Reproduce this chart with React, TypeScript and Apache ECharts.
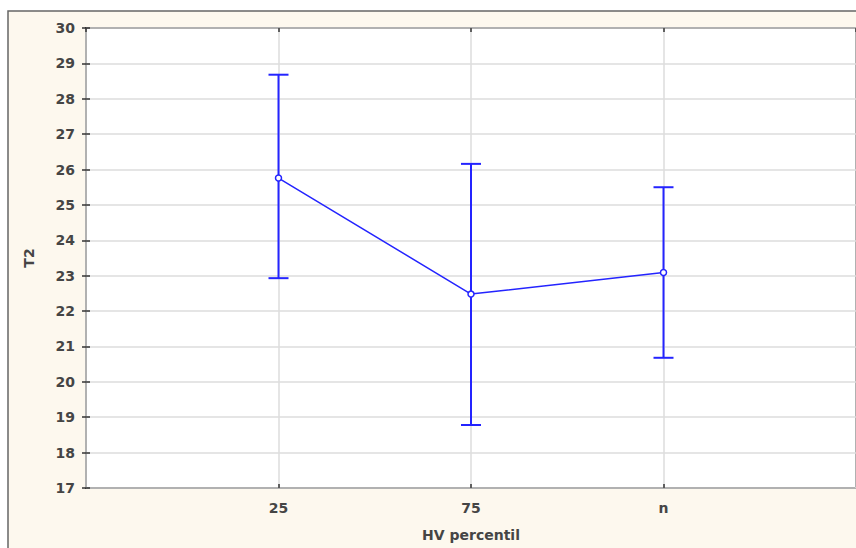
import React, { useEffect, useRef } from "react";
import * as echarts from "echarts";

const categories = ["25", "75", "n"];
const means = [25.76, 22.48, 23.09];
const upper = [28.68, 26.16, 25.5];
const lower = [22.93, 18.78, 20.68];
const yTicks = { min: 17, max: 30, interval: 1 };

const BLUE = "#2424ff";
const FONT = "DejaVu Sans, Verdana, sans-serif";
const TEXT = { fontFamily: FONT, fontSize: 14, fontWeight: "bold" as const, color: "#454545" };

export default function App() {
  const ref = useRef<HTMLDivElement>(null);
  useEffect(() => {
    document.body.style.margin = "0";
    if (!ref.current) return;
    const chart = echarts.init(ref.current, undefined, { renderer: "svg" });
    const meanData = means.map((v, i) => [i + 1, v]);
    const errData = categories.map((_, i) => [i + 1, lower[i], upper[i]]);
    const catLabel = (v: number) => {
      const idx = Math.round(v) - 1;
      return idx >= 0 && idx < categories.length && Math.abs(v - idx - 1) < 1e-6 ? categories[idx] : "";
    };
    chart.setOption({
      animation: false,
      backgroundColor: "#ffffff",
      graphic: [
        {
          type: "rect",
          z: -10,
          silent: true,
          shape: { x: 8, y: 11, width: 860, height: 560 },
          style: { fill: "#fdf8ee", stroke: "#666", lineWidth: 1.5 },
        },
      ],
      grid: {
        left: 86,
        top: 28,
        width: 772,
        height: 460,
        show: true,
        backgroundColor: "#ffffff",
        borderColor: "#333",
        borderWidth: 2,
        z: 0,
      },
      xAxis: [
        {
          type: "value",
          min: 0,
          max: 4,
          interval: 1,
          position: "bottom",
          name: "HV percentil",
          nameLocation: "middle",
          nameGap: 40,
          nameTextStyle: TEXT,
          axisLine: { show: false },
          axisTick: { show: true, inside: true, length: 4, lineStyle: { color: "#333", width: 1.5 } },
          axisLabel: {
            ...TEXT,
            formatter: catLabel,
            margin: 13,
            showMinLabel: false,
            showMaxLabel: false,
          },
          splitLine: { show: true, lineStyle: { color: "#dcdcdc", width: 1.5 } },
        },
        {
          type: "value",
          min: 0,
          max: 4,
          interval: 1,
          position: "top",
          axisLine: { show: false },
          axisTick: { show: true, inside: true, length: 4, lineStyle: { color: "#333", width: 1.5 } },
          axisLabel: { show: false },
          splitLine: { show: false },
        },
      ],
      yAxis: [
        {
          type: "value",
          min: yTicks.min,
          max: yTicks.max,
          interval: yTicks.interval,
          name: "T2",
          nameLocation: "middle",
          nameGap: 50,
          nameRotate: 90,
          nameTextStyle: TEXT,
          axisLine: { show: false },
          axisTick: { show: true, inside: true, length: 4, lineStyle: { color: "#333", width: 1.5 } },
          axisLabel: { ...TEXT, margin: 11 },
          splitLine: { show: true, lineStyle: { color: "#dcdcdc", width: 1.5 } },
        },
        {
          type: "value",
          min: yTicks.min,
          max: yTicks.max,
          interval: yTicks.interval,
          position: "right",
          axisLine: { show: false },
          axisTick: { show: true, inside: true, length: 4, lineStyle: { color: "#333", width: 1.5 } },
          axisLabel: { show: false },
          splitLine: { show: false },
        },
      ],
      series: [
        {
          type: "custom",
          xAxisIndex: 0,
          yAxisIndex: 0,
          data: errData,
          z: 3,
          renderItem: (params: any, api: any) => {
            const x = api.value(0);
            const lo = api.coord([x, api.value(1)]);
            const hi = api.coord([x, api.value(2)]);
            const half = 10;
            const style = { stroke: BLUE, lineWidth: 2 };
            return {
              type: "group",
              children: [
                { type: "line", shape: { x1: lo[0], y1: lo[1], x2: hi[0], y2: hi[1] }, style },
                { type: "line", shape: { x1: hi[0] - half, y1: hi[1], x2: hi[0] + half, y2: hi[1] }, style },
                { type: "line", shape: { x1: lo[0] - half, y1: lo[1], x2: lo[0] + half, y2: lo[1] }, style },
              ],
            };
          },
        },
        {
          type: "line",
          xAxisIndex: 0,
          yAxisIndex: 0,
          data: meanData,
          z: 4,
          symbol: "circle",
          symbolSize: 6,
          lineStyle: { color: BLUE, width: 1.5 },
          itemStyle: { color: "#ffffff", borderColor: BLUE, borderWidth: 1.5 },
        },
      ],
    });
    return () => chart.dispose();
  }, []);
  return <div ref={ref} style={{ width: 856, height: 548, overflow: "hidden" }} />;
}
